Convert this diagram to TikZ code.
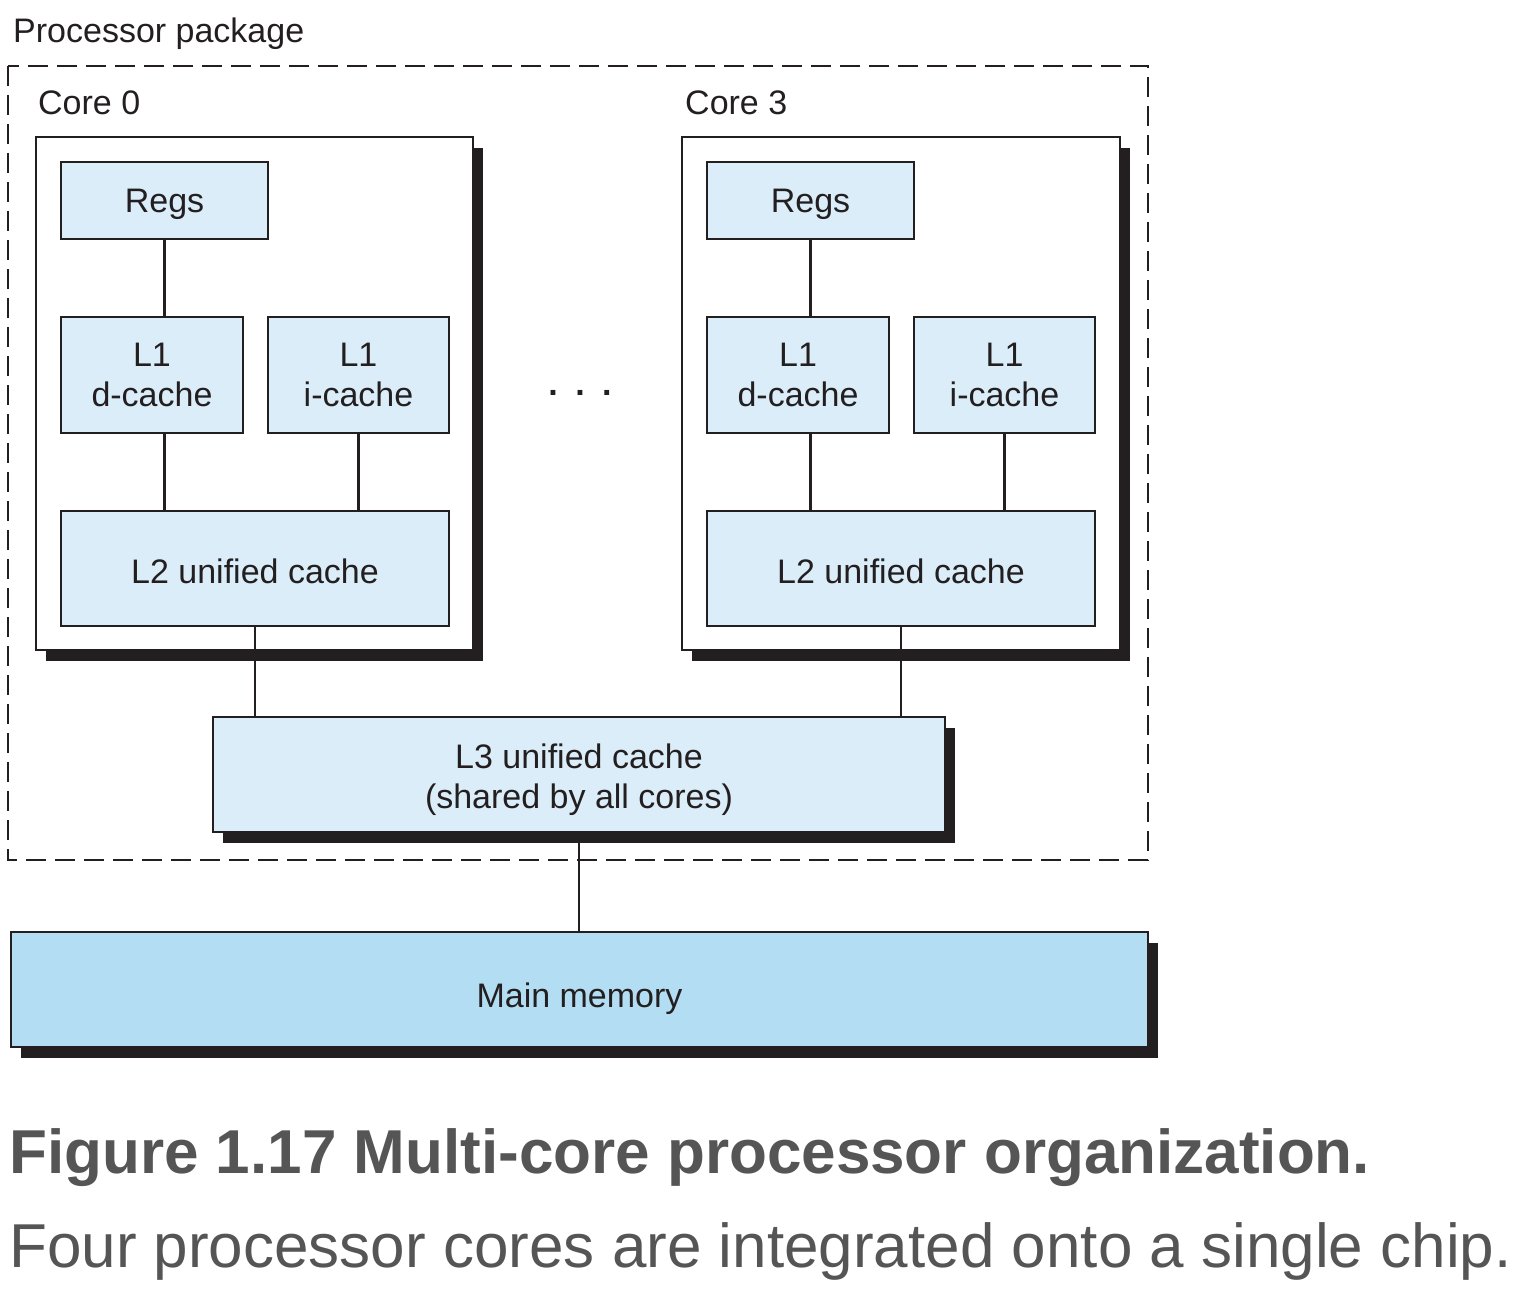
\documentclass[tikz,border=0pt]{standalone}
\usepackage{fontspec}
\setmainfont{Liberation Sans}
\usetikzlibrary{shadows}
\definecolor{boxfill}{HTML}{DAEDF8}
\definecolor{memfill}{HTML}{B3DDF3}
\definecolor{inkc}{HTML}{231F20}
\definecolor{capc}{HTML}{555555}
\tikzset{
  lbl/.style={font=\fontsize{34}{40}\selectfont, text=inkc, inner sep=0pt},
  cachebox/.style={draw=inkc, line width=2.5pt, fill=boxfill, inner sep=0pt, align=center,
    font=\fontsize{34}{40}\selectfont, text=inkc},
  coresbox/.style={draw=inkc, line width=2.5pt, fill=white, inner sep=0pt},
  shad/.style={drop shadow={shadow xshift=10pt, shadow yshift=-11pt, fill=inkc, opacity=1}},
  link/.style={draw=inkc, line width=2.2pt},
  pkg/.style={draw=inkc, line width=2.5pt, dash pattern=on 20pt off 9pt},
  capbold/.style={font=\fontsize{62}{70}\selectfont\bfseries, text=capc, inner sep=0pt},
  capreg/.style={font=\fontsize{62}{70}\selectfont, text=capc, inner sep=0pt}
}
\begin{document}
\begin{tikzpicture}[x=1pt, y=-1pt]
\useasboundingbox (0,0) rectangle (1526,1292);
% package outline
\draw[pkg] (8,66) rectangle (1148,860);
\node[lbl, anchor=base west] (pkglbl) at (13,43) {Processor package};
% core boxes
\node[coresbox, shad, minimum width=437pt, minimum height=513pt] (core0) at (254.5,393.5) {};
\node[coresbox, shad, minimum width=438pt, minimum height=513pt] (core3) at (901,393.5) {};
\node[lbl, anchor=base west] (core0lbl) at (38,115) {Core 0};
\node[lbl, anchor=base west] (core3lbl) at (685,115) {Core 3};
% core 0 contents
\node[cachebox, text height=25pt, text depth=0pt, minimum width=207pt, minimum height=77pt] (regs0) at (164.5,200.5) {Regs};
\node[cachebox, minimum width=182pt, minimum height=116pt] (l1d0) at (152,375) {L1\\d-cache};
\node[cachebox, minimum width=181pt, minimum height=116pt] (l1i0) at (358.5,375) {L1\\i-cache};
\node[cachebox, text height=29pt, text depth=0pt, minimum width=388pt, minimum height=115pt] (l20) at (255,568.5) {L2 unified cache};
% core 3 contents
\node[cachebox, text height=25pt, text depth=0pt, minimum width=207pt, minimum height=77pt] (regs3) at (810.5,200.5) {Regs};
\node[cachebox, minimum width=182pt, minimum height=116pt] (l1d3) at (798,375) {L1\\d-cache};
\node[cachebox, minimum width=181pt, minimum height=116pt] (l1i3) at (1004.5,375) {L1\\i-cache};
\node[cachebox, text height=29pt, text depth=0pt, minimum width=388pt, minimum height=115pt] (l23) at (901,568.5) {L2 unified cache};
% dots
\node[font=\fontsize{34}{40}\selectfont\bfseries, text=inkc, inner sep=0pt, anchor=base] (dots) at (580,395) {.\hspace{17.5pt}.\hspace{17.5pt}.};
% L3 and memory
\node[cachebox, shad, minimum width=732pt, minimum height=115pt] (l3) at (579,774.5) {\rule{0pt}{35pt}L3 unified cache\\(shared by all cores)};
\node[cachebox, shad, fill=memfill, text height=35pt, text depth=0pt, minimum width=1137pt, minimum height=115pt] (mem) at (579.5,989.5) {Main memory};
% connectors core 0
\draw[link] (regs0.south) -- (regs0.south |- l1d0.north);
\draw[link] (regs0.south |- l1d0.south) -- (regs0.south |- l20.north);
\draw[link] (l1i0.south) -- (l1i0.south |- l20.north);
\draw[link] (l20.south) -- (l20.south |- l3.north);
% connectors core 3
\draw[link] (regs3.south) -- (regs3.south |- l1d3.north);
\draw[link] (regs3.south |- l1d3.south) -- (regs3.south |- l23.north);
\draw[link] (l1i3.south) -- (l1i3.south |- l23.north);
\draw[link] (l23.south) -- (l23.south |- l3.north);
% L3 to memory
\draw[link] (l3.south) -- (l3.south |- mem.north);
% caption
\node[capbold, anchor=base west] (cap1) at (9,1173) {Figure 1.17 Multi-core processor organization.};
\node[capreg, anchor=base west] (cap2) at (9,1267) {Four processor cores are integrated onto a single chip.};
\end{tikzpicture}
\end{document}
